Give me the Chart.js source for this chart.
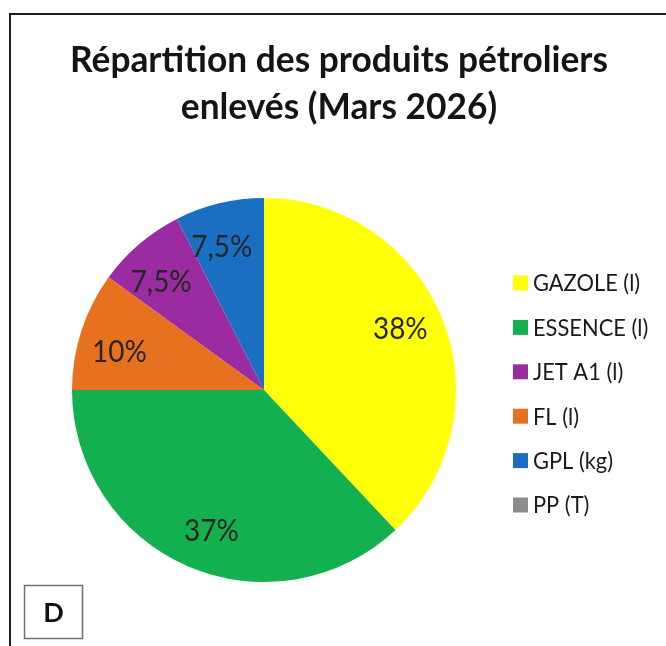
<!DOCTYPE html>
<html>
<head>
<meta charset="utf-8">
<script src="https://cdn.jsdelivr.net/npm/chart.js@4.4.4/dist/chart.umd.min.js"></script>
<style>
  html, body { margin: 0; padding: 0; background: #fff; }
  #wrap { position: relative; width: 666px; height: 646px; overflow: hidden; }
  #frame { position: absolute; left: 9px; top: 13px; width: 700px; height: 700px;
           border-top: 2px solid #1c1c1c; border-left: 2px solid #1c1c1c; }
  #pie { position: absolute; left: 0; top: 0; }
</style>
</head>
<body>
<div id="wrap">
  <div id="frame"></div>
  <canvas id="pie" width="666" height="646"></canvas>
</div>
<script>
// slices in drawing order (clockwise from 12 o'clock)
const categories = ['GAZOLE (l)', 'ESSENCE (l)', 'FL (l)', 'JET A1 (l)', 'GPL (kg)', 'PP (T)'];
const shares = [38, 37, 10, 7.5, 7.5, 0];
const colors = ['#ffff0a', '#12b04e', '#e8711f', '#9b2ba1', '#1b6fc2', '#8c8c8c'];
// legend lists the products in this order
const legendOrder = ['GAZOLE (l)', 'ESSENCE (l)', 'JET A1 (l)', 'FL (l)', 'GPL (kg)', 'PP (T)'];
const titleLines = ['Répartition des produits pétroliers', 'enlevés (Mars 2026)'];
const panelTag = 'D';

function pctText(v) {
  return String(v).replace('.', ',') + '%';
}

// narrow text a bit, the original uses a condensed face
function narrowText(ctx, text, x, y, sx) {
  ctx.save();
  ctx.translate(x, y);
  ctx.scale(sx, 1);
  ctx.fillText(text, 0, 0);
  ctx.restore();
}

// percent labels, legend, title and tag box
const decorations = {
  id: 'decorations',
  afterDatasetsDraw(chart) {
    const ctx = chart.ctx;
    const meta = chart.getDatasetMeta(0);
    ctx.save();
    ctx.font = '31px Lato';
    ctx.fillStyle = '#262626';
    ctx.textAlign = 'center';
    ctx.textBaseline = 'middle';
    meta.data.forEach((arc, i) => {
      const v = chart.data.datasets[0].data[i];
      if (!v) return;
      const p = arc.getProps(['x', 'y', 'startAngle', 'endAngle', 'outerRadius'], true);
      const mid = (p.startAngle + p.endAngle) / 2 - 0.05;
      const r = p.outerRadius * 0.78;
      narrowText(ctx, pctText(v), p.x + Math.cos(mid) * r, p.y + Math.sin(mid) * r + 1, 0.9);
    });
    ctx.restore();
  },
  afterDraw(chart) {
    const ctx = chart.ctx;
    ctx.save();

    // title
    ctx.fillStyle = '#141414';
    ctx.textAlign = 'center';
    ctx.textBaseline = 'alphabetic';
    ctx.font = 'bold 36px Lato';
    const sx = 538 / ctx.measureText(titleLines[0]).width;
    narrowText(ctx, titleLines[0], 339, 72, sx);
    narrowText(ctx, titleLines[1], 339, 119, sx);

    // legend
    ctx.font = '23px Lato';
    ctx.textAlign = 'left';
    ctx.textBaseline = 'middle';
    legendOrder.forEach((name, k) => {
      const i = chart.data.labels.indexOf(name);
      const y = 283 + k * 44.4;
      ctx.fillStyle = chart.data.datasets[0].backgroundColor[i];
      ctx.fillRect(513, y - 7.5, 15, 15);
      ctx.fillStyle = '#1a1a1a';
      narrowText(ctx, name, 533, y + 1, 0.95);
    });

    // tag box
    ctx.strokeStyle = '#707070';
    ctx.lineWidth = 1.5;
    ctx.strokeRect(24.5, 585.5, 58, 53);
    ctx.fillStyle = '#111';
    ctx.font = 'bold 27px Lato';
    ctx.textAlign = 'center';
    ctx.fillText(panelTag, 53.5, 613);

    ctx.restore();
  }
};

new Chart(document.getElementById('pie'), {
  type: 'pie',
  data: {
    labels: categories,
    datasets: [{
      data: shares,
      backgroundColor: colors,
      borderWidth: 0
    }]
  },
  options: {
    responsive: false,
    animation: false,
    layout: { padding: { left: 72, right: 210, top: 198, bottom: 64 } },
    plugins: {
      legend: { display: false },
      title: { display: false },
      tooltip: { enabled: false }
    }
  },
  plugins: [decorations]
});
</script>
</body>
</html>
